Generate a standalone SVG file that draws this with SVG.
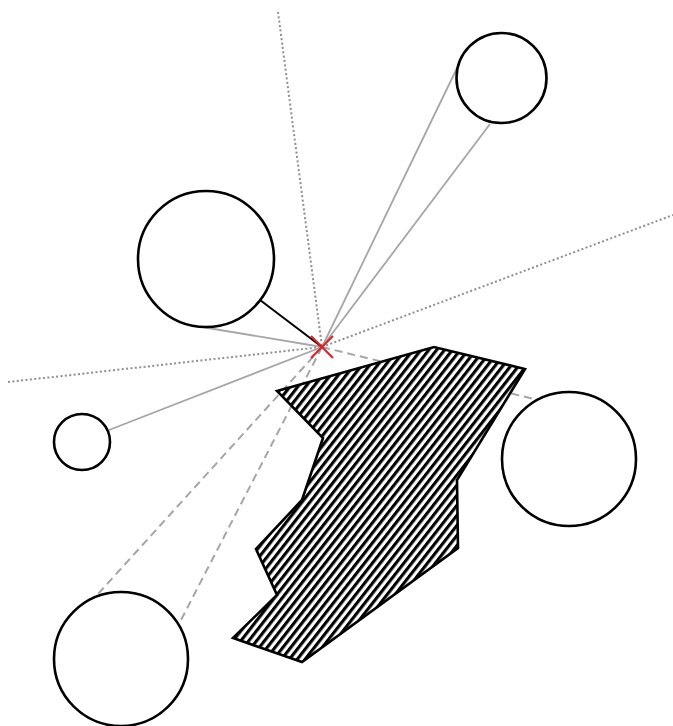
<svg xmlns="http://www.w3.org/2000/svg" width="673" height="726" viewBox="0 0 673 726">
  <style>
    .circ { fill: #fff; stroke: #000; stroke-width: 2.6; }
    .dot { stroke: #8f8f8f; stroke-width: 2; stroke-dasharray: 2 2.4; fill: none; }
    .ray { stroke: #a6a6a6; stroke-width: 1.8; fill: none; }
    .dash { stroke: #a6a6a6; stroke-width: 2; stroke-dasharray: 8 5; fill: none; }
    .near { stroke: #000; stroke-width: 2; fill: none; }
    .mark { stroke: #e0202a; stroke-width: 2.2; fill: none; }
  </style>
  <defs>
    <pattern id="hatch" width="6.2" height="6.2" patternUnits="userSpaceOnUse" patternTransform="rotate(38)">
      <rect x="0" y="0" width="6.2" height="6.2" fill="#fff"/>
      <rect x="0" y="0" width="3.1" height="6.2" fill="#000"/>
    </pattern>
  </defs>
  <rect x="0" y="0" width="673" height="726" fill="#fff"/>

  <g id="connectors">
    <line class="dot" x1="278" y1="12" x2="322" y2="347"/>
    <line class="dot" x1="8" y1="382" x2="322" y2="347"/>
    <line class="dot" x1="322" y1="347" x2="673" y2="215"/>
    <line class="ray" x1="322" y1="347" x2="458" y2="66"/>
    <line class="ray" x1="322" y1="347" x2="490" y2="124"/>
    <line class="ray" x1="322" y1="347" x2="196" y2="326"/>
    <line class="ray" x1="322" y1="347" x2="109" y2="430"/>
    <line class="near" x1="322" y1="347" x2="260" y2="300"/>
    <line class="dash" x1="322" y1="347" x2="534" y2="399"/>
    <line class="dash" x1="322" y1="347" x2="98" y2="594"/>
    <line class="dash" x1="322" y1="347" x2="180" y2="622"/>
  </g>

  <g id="obstacle">
    <polygon points="277,391 434,347 525,369 457,480 458,548 302,662 233,638 277,595 256,549 302,500 323,438" fill="url(#hatch)" stroke="#000" stroke-width="2.6" stroke-linejoin="miter"/>
  </g>

  <g id="circle-top-right"><circle class="circ" cx="501.5" cy="78" r="45"/></g>
  <g id="circle-left-big"><circle class="circ" cx="206" cy="259" r="68"/></g>
  <g id="circle-left-small"><circle class="circ" cx="82" cy="442" r="28"/></g>
  <g id="circle-right"><circle class="circ" cx="569" cy="459" r="67"/></g>
  <g id="circle-bottom-left"><circle class="circ" cx="121" cy="659" r="67"/></g>

  <g id="origin">
    <line class="mark" x1="311" y1="336" x2="333" y2="358"/>
    <line class="mark" x1="333" y1="336" x2="311" y2="358"/>
  </g>
</svg>
